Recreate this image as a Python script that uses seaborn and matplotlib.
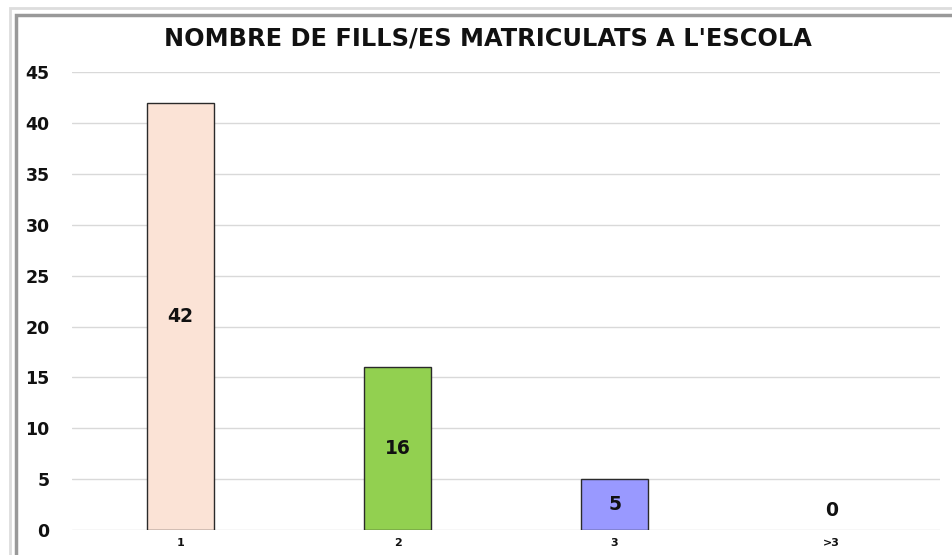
import pandas as pd
import seaborn as sns
import matplotlib.pyplot as plt
from matplotlib.patches import Rectangle

# Chart data
categories = ['1', '2', '3', '>3']
counts = [42, 16, 5, 0]
bar_colors = ['#FBE3D6', '#92D050', '#9999FF', '#C0C0C0']
title = "NOMBRE DE FILLS/ES MATRICULATS A L'ESCOLA"
y_ticks = [0, 5, 10, 15, 20, 25, 30, 35, 40, 45]

df = pd.DataFrame({'cat': categories, 'n': counts})

sns.set_style('white')
plt.rcParams['font.family'] = ['DejaVu Sans']

fig = plt.figure(figsize=(9.52, 5.55), dpi=100)
ax = fig.add_axes([0.0756, 0.045, 0.912, 0.825])

sns.barplot(data=df, x='cat', y='n', hue='cat', palette=bar_colors,
            saturation=1, legend=False, width=0.31, edgecolor='#2a2a2a',
            linewidth=1.0, ax=ax, zorder=3)

# hide the empty bar outline
for p, v in zip(ax.patches, counts):
    if v == 0:
        p.set_linewidth(0)

ax.set_ylim(0, 45)
ax.set_yticks(y_ticks)
ax.set_xlim(-0.5, 3.5)
ax.yaxis.grid(True, color='#D9D9D9', linewidth=1.0, zorder=0)
ax.set_axisbelow(True)
for s in ax.spines.values():
    s.set_visible(False)
ax.set_xlabel('')
ax.set_ylabel('')
ax.tick_params(axis='y', length=0, pad=16, labelsize=12.5, labelcolor='#111111')
ax.tick_params(axis='x', length=0, pad=6, labelsize=8, labelcolor='#111111')
for lbl in ax.get_yticklabels() + ax.get_xticklabels():
    lbl.set_fontweight('bold')

# value labels in the middle of each bar
for i, v in enumerate(counts):
    if v > 0:
        ax.text(i, v / 2, str(v), ha='center', va='center',
                fontsize=13.5, fontweight='bold', color='#111111', zorder=4)
    else:
        ax.annotate(str(v), (i, v), xytext=(0, 14), textcoords='offset points',
                    ha='center', va='center', fontsize=13.5, fontweight='bold',
                    color='#111111')

fig.text(0.513, 0.931, title, ha='center', va='center',
         fontsize=17.3, fontweight='bold', color='#111111')

# frame around the chart
fig.patches.append(Rectangle((10 / 952, -0.05), 1.2, 1.05 - 8 / 555,
                             transform=fig.transFigure, fill=False,
                             edgecolor='#DDDDDD', linewidth=2))
fig.patches.append(Rectangle((16 / 952, -0.05), 1.2, 1.05 - 15 / 555,
                             transform=fig.transFigure, fill=False,
                             edgecolor='#999999', linewidth=2.5))

fig.savefig('out.png', dpi=100)
